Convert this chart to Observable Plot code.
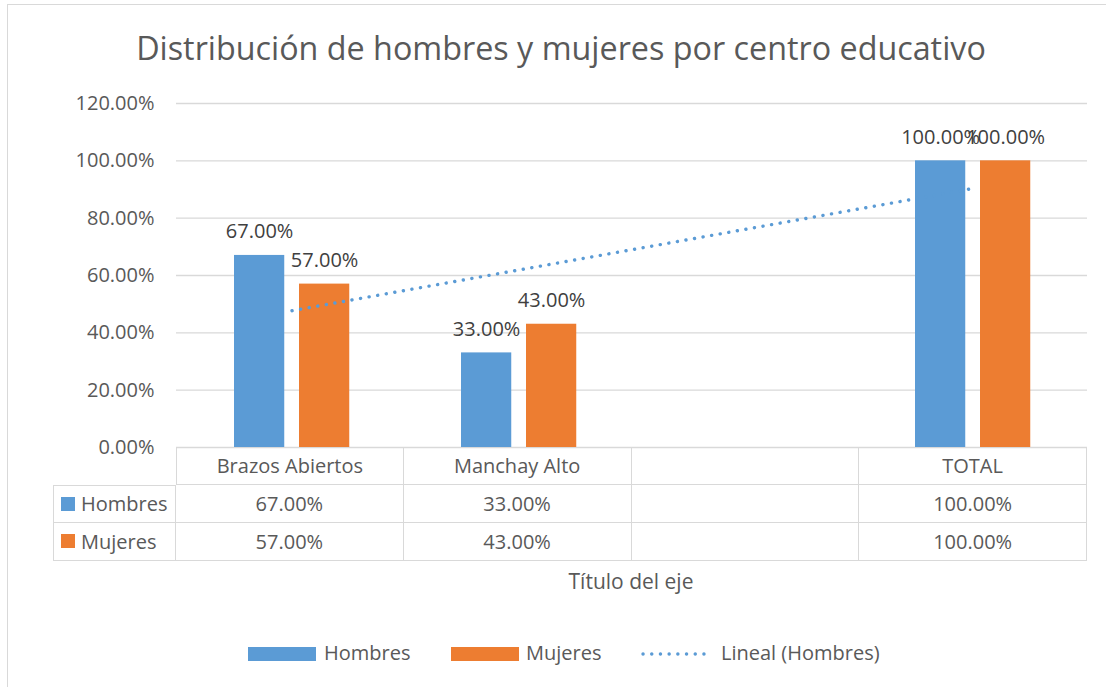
<!DOCTYPE html>
<html><head><meta charset="utf-8">
<script src="https://cdn.jsdelivr.net/npm/d3@7"></script>
<script src="https://cdn.jsdelivr.net/npm/@observablehq/plot@0.6"></script>
<style>
body{margin:0;background:#fff;}
#chart{position:relative;width:1106px;height:687px;overflow:hidden;font-family:"Open Sans",sans-serif;background:#fff;}
.frame{position:absolute;left:7px;top:4px;width:1130px;height:720px;border:1px solid #d9d9d9;box-sizing:border-box;}
.abs{position:absolute;white-space:nowrap;line-height:1;}
#title{left:0;width:1122px;text-align:center;top:31px;font-size:32.3px;color:#595959;}
#plotwrap{position:absolute;left:0;top:0;}
.cell{position:absolute;box-sizing:border-box;border-color:#d9d9d9;border-style:solid;border-width:0;display:flex;align-items:center;justify-content:center;font-size:20px;color:#595959;white-space:nowrap;}
.sw{display:inline-block;width:14px;height:14px;margin-right:6px;}
#axtitle{left:0;width:1262px;text-align:center;top:571px;font-size:21px;color:#595959;}
.leg{font-size:20px;color:#595959;top:643px;}
.legsw{position:absolute;top:647px;width:68px;height:14px;}
</style>
</head>
<body>
<div id="chart">
  <div class="frame"></div>
  <div id="title" class="abs"></div>
  <div id="plotwrap"></div>
  <div id="table"></div>
  <div id="axtitle" class="abs"></div>
  <div id="legend"></div>
</div>
<script>
// ---- data ----
const titleText = "Distribución de hombres y mujeres por centro educativo";
const categories = ["Brazos Abiertos", "Manchay Alto", "", "TOTAL"];
const seriesNames = ["Hombres", "Mujeres"];
const hombres = [67, 33, null, 100];
const mujeres = [57, 43, null, 100];
const yTicks = [0, 20, 40, 60, 80, 100, 120];
const axisTitle = "Título del eje";
const trendName = "Lineal (Hombres)";
const colors = {Hombres: "#5b9bd5", Mujeres: "#ed7d31"};

const fmt = v => v.toFixed(2) + "%";

document.getElementById("title").textContent = titleText;
document.getElementById("axtitle").textContent = axisTitle;

const left = 176, right = 1087;
const bandW = (right - left) / categories.length;

const rowsH = categories.map((c, i) => ({cat: c, v: hombres[i]})).filter(d => d.v != null);
const rowsM = categories.map((c, i) => ({cat: c, v: mujeres[i]})).filter(d => d.v != null);

// linear trend for Hombres (category positions 1..n)
const pts = hombres.map((v, i) => ({x: i + 1, v})).filter(d => d.v != null);
const mx = d3.mean(pts, d => d.x), my = d3.mean(pts, d => d.v);
const slope = d3.sum(pts, d => (d.x - mx) * (d.v - my)) / d3.sum(pts, d => (d.x - mx) ** 2);
const icpt = my - slope * mx;
const trend = [pts[0], pts[pts.length - 1]].map(d => ({cat: categories[d.x - 1], v: icpt + slope * d.x}));

const barL1 = 56, barW = 51, gap = 14;
const hIn = {insetLeft: barL1, insetRight: bandW - barL1 - barW};
const mIn = {insetLeft: barL1 + barW + gap, insetRight: bandW - barL1 - 2 * barW - gap};
const hDx = barL1 + barW / 2 - bandW / 2;
const mDx = barL1 + barW + gap + barW / 2 - bandW / 2;

const plot = Plot.plot({
  width: 1106, height: 450,
  marginLeft: left, marginRight: 1106 - right, marginTop: 103, marginBottom: 3,
  x: {type: "band", domain: categories, padding: 0, axis: null},
  y: {domain: [0, 120], axis: null},
  style: {fontFamily: "Open Sans, sans-serif", fontSize: "20px", color: "#595959", background: "transparent", overflow: "visible"},
  marks: [
    Plot.ruleY(yTicks, {stroke: "#d9d9d9", strokeWidth: 1.3, strokeOpacity: 1}),
    Plot.axisY({ticks: yTicks, tickSize: 0, tickPadding: 22, tickFormat: fmt, fontSize: 20, fill: "#595959", label: null}),
    Plot.barY(rowsH, {x: "cat", y: "v", fill: colors.Hombres, ...hIn}),
    Plot.barY(rowsM, {x: "cat", y: "v", fill: colors.Mujeres, ...mIn}),
    Plot.line(trend, {x: "cat", y: "v", stroke: colors.Hombres, strokeWidth: 3.4, strokeDasharray: "0.1 8.6", strokeLinecap: "round"}),
    Plot.text(rowsH, {x: "cat", y: "v", text: d => fmt(d.v), dx: hDx, dy: -17, lineAnchor: "bottom", fill: "#404040", fontSize: 20}),
    Plot.text(rowsM, {x: "cat", y: "v", text: d => fmt(d.v), dx: mDx, dy: -17, lineAnchor: "bottom", fill: "#404040", fontSize: 20})
  ]
});
document.getElementById("plotwrap").appendChild(plot);

// ---- data table ----
const tbl = document.getElementById("table");
const colX = [53, ...categories.map((c, i) => left + i * bandW), right];
const rowY = [447, 484.5, 522.5, 560.5];
const B = "1.5px";
function cell(r, c, content) {
  const d = document.createElement("div");
  d.className = "cell";
  d.style.left = colX[c] + "px";
  d.style.top = rowY[r] + "px";
  d.style.width = (colX[c + 1] - colX[c]) + "px";
  d.style.height = (rowY[r + 1] - rowY[r]) + "px";
  if (!(r === 0 && c === 0)) {
    d.style.borderRightWidth = B;
    d.style.borderBottomWidth = B;
    if (c === 0 || (r === 0 && c === 1)) d.style.borderLeftWidth = B;
    if (r === 0 || (r === 1 && c === 0)) d.style.borderTopWidth = B;
  }
  if (content instanceof Node) d.appendChild(content); else d.textContent = content;
  tbl.appendChild(d);
  return d;
}
cell(0, 0, "");
categories.forEach((c, i) => cell(0, i + 1, c));
[hombres, mujeres].forEach((vals, r) => {
  const name = seriesNames[r];
  const head = document.createElement("span");
  head.style.display = "flex"; head.style.alignItems = "center";
  const sw = document.createElement("span");
  sw.className = "sw"; sw.style.background = colors[name];
  head.appendChild(sw);
  head.appendChild(document.createTextNode(name));
  const hc = cell(r + 1, 0, head);
  hc.style.justifyContent = "flex-start"; hc.style.paddingLeft = "7px";
  vals.forEach((v, i) => cell(r + 1, i + 1, v == null ? "" : fmt(v)));
});

// ---- legend ----
const leg = document.getElementById("legend");
function addSw(x, color) {
  const s = document.createElement("div");
  s.className = "legsw"; s.style.left = x + "px"; s.style.background = color;
  leg.appendChild(s);
}
function addTxt(x, t) {
  const s = document.createElement("div");
  s.className = "abs leg"; s.style.left = x + "px"; s.textContent = t;
  leg.appendChild(s);
}
addSw(248, colors.Hombres); addTxt(324, seriesNames[0]);
addSw(451, colors.Mujeres); addTxt(526, seriesNames[1]);
const ns = "http://www.w3.org/2000/svg";
const ls = document.createElementNS(ns, "svg");
ls.setAttribute("width", 80); ls.setAttribute("height", 10);
ls.style.position = "absolute"; ls.style.left = "640px"; ls.style.top = "649px";
const ln = document.createElementNS(ns, "line");
ln.setAttribute("x1", 3); ln.setAttribute("x2", 70); ln.setAttribute("y1", 5); ln.setAttribute("y2", 5);
ln.setAttribute("stroke", colors.Hombres); ln.setAttribute("stroke-width", 3.4);
ln.setAttribute("stroke-dasharray", "0.1 8.6"); ln.setAttribute("stroke-linecap", "round");
ls.appendChild(ln); leg.appendChild(ls);
addTxt(721, trendName);
</script>
</body></html>
